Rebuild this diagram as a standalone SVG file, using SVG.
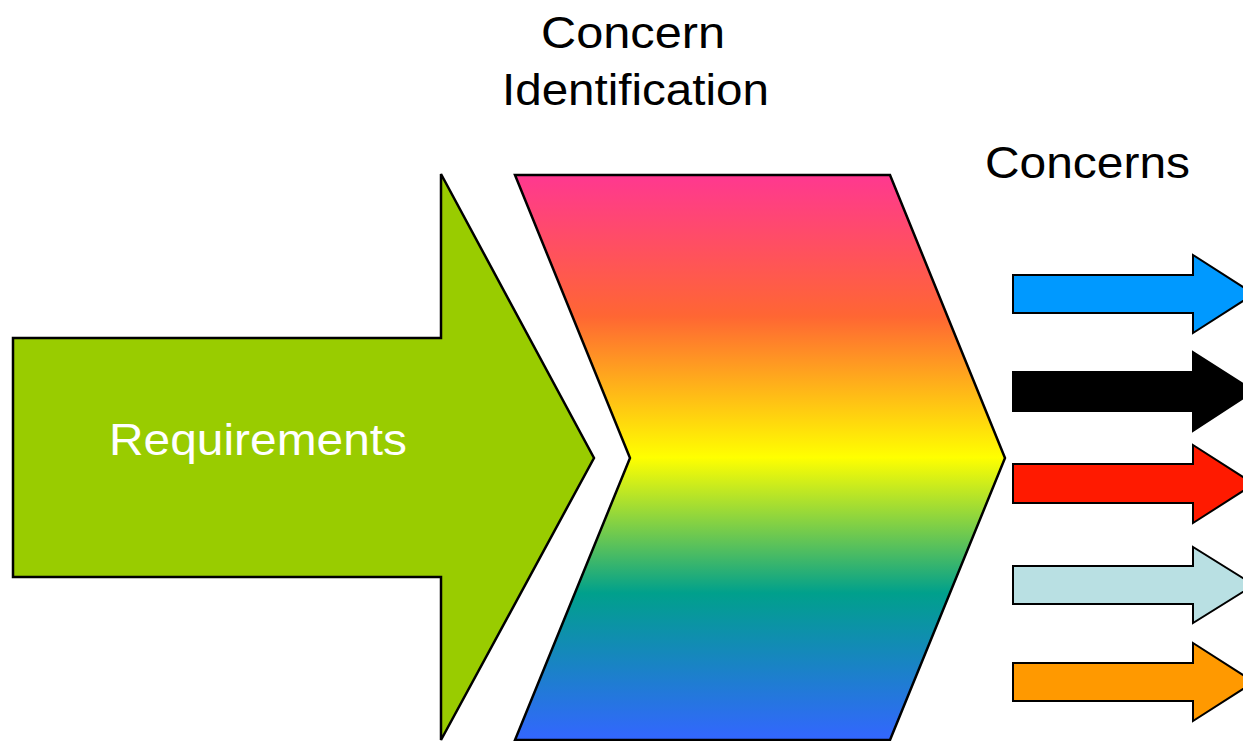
<svg xmlns="http://www.w3.org/2000/svg" width="1243" height="741" viewBox="0 0 1243 741">
  <defs>
    <linearGradient id="spectrum" gradientUnits="userSpaceOnUse" x1="0" y1="175" x2="0" y2="740">
      <stop offset="0" stop-color="#FF3890"/>
      <stop offset="0.25" stop-color="#FF6633"/>
      <stop offset="0.5" stop-color="#FFFF00"/>
      <stop offset="0.74" stop-color="#00A08C"/>
      <stop offset="1" stop-color="#3366FF"/>
    </linearGradient>
  </defs>
  <style>
    .outline { stroke: #000; stroke-width: 2.5; stroke-linejoin: miter; }
    .thin { stroke: #000; stroke-width: 2; stroke-linejoin: miter; }
    .label { font-family: "Liberation Sans", Arial, sans-serif; font-size: 44px; fill: #000; }
    .white { fill: #fff; }
  </style>

  <rect width="1243" height="741" fill="#fff"/>

  <!-- Requirements block arrow -->
  <g id="requirements">
    <path class="outline" fill="#99CC00" d="M13,338 L441,338 L441,174 L594,458 L441,740 L441,577 L13,577 Z"/>
    <text class="label white" x="109" y="455" textLength="298" lengthAdjust="spacingAndGlyphs">Requirements</text>
  </g>

  <!-- Concern identification chevron -->
  <g id="concern-identification">
    <path class="outline" fill="url(#spectrum)" d="M515,175 L890,175 L1005,458 L890,740 L515,740 L630,458 Z"/>
    <text class="label" x="541" y="48" textLength="184" lengthAdjust="spacingAndGlyphs">Concern</text>
    <text class="label" x="502" y="105" font-size="46" textLength="267" lengthAdjust="spacingAndGlyphs">Identification</text>
  </g>

  <!-- Resulting concerns -->
  <g id="concerns">
    <text class="label" x="985" y="178" textLength="205" lengthAdjust="spacingAndGlyphs">Concerns</text>
    <g id="concern-blue">
      <path class="thin" fill="#0099FF" d="M1013,275 L1193,275 L1193,255 L1254,294 L1193,333 L1193,313 L1013,313 Z"/>
    </g>
    <g id="concern-black">
      <path class="thin" fill="#000" d="M1013,372 L1193,372 L1193,352 L1254,391 L1193,431 L1193,411 L1013,411 Z"/>
    </g>
    <g id="concern-red">
      <path class="thin" fill="#FF1A00" d="M1013,464 L1193,464 L1193,445 L1254,484 L1193,523 L1193,503 L1013,503 Z"/>
    </g>
    <g id="concern-lightblue">
      <path class="thin" fill="#B9E0E3" d="M1013,566 L1193,566 L1193,547 L1254,585 L1193,623 L1193,604 L1013,604 Z"/>
    </g>
    <g id="concern-orange">
      <path class="thin" fill="#FF9900" d="M1013,663 L1193,663 L1193,643 L1254,682 L1193,721 L1193,701 L1013,701 Z"/>
    </g>
  </g>
</svg>
